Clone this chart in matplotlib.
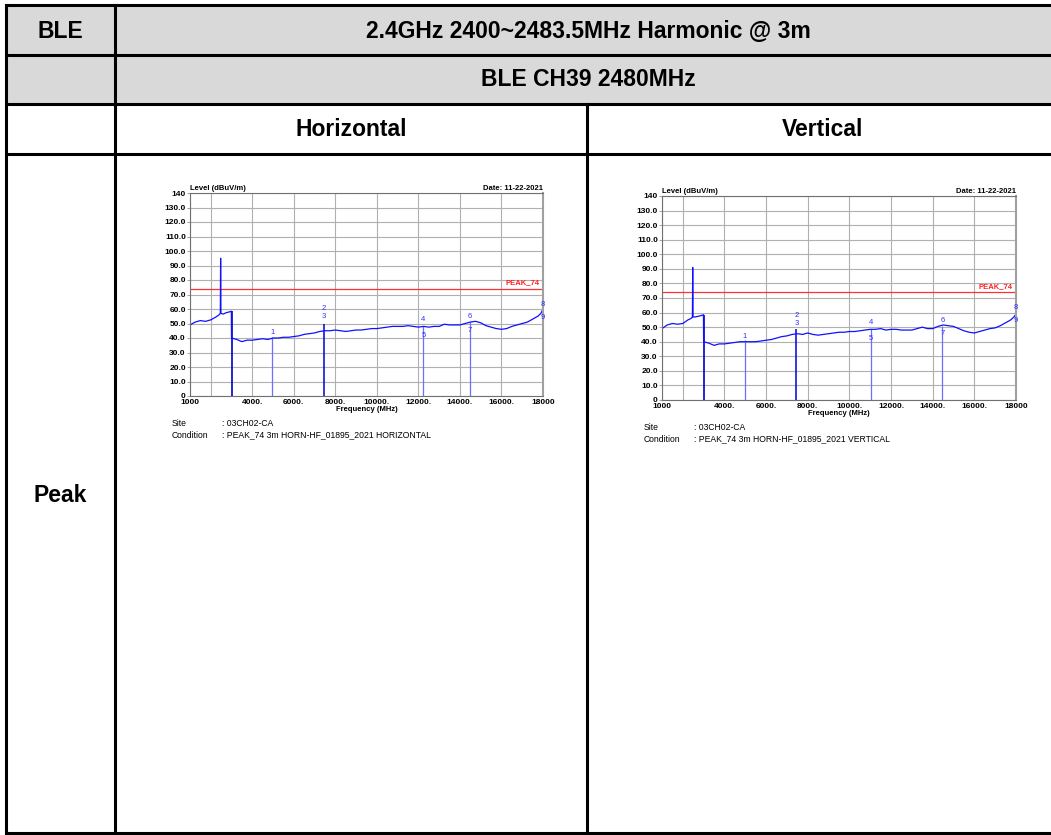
"""Harmonic scan table: BLE CH39 2480MHz, horizontal and vertical polarisation."""
import matplotlib
matplotlib.use('Agg')
import matplotlib.pyplot as plt
from matplotlib.patches import Rectangle
import numpy as np

plt.rcParams['font.family'] = ['Liberation Sans', 'DejaVu Sans']

# ---- trace data (MHz, dBuV/m) ----
freq = [1000, 1250, 1500, 1750, 2000, 2250, 2400, 2460, 2475, 2490, 2600, 2750, 2900, 2990,
        3000, 3250, 3500, 3750, 4000, 4250, 4500, 4750, 5000, 5250, 5500, 5750, 6000,
        6250, 6500, 6750, 7000, 7250, 7500, 7750, 8000, 8250, 8500, 8750, 9000, 9250,
        9500, 9750, 10000, 10250, 10500, 10750, 11000, 11250, 11500, 11750, 12000, 12250,
        12500, 12750, 13000, 13250, 13500, 13750, 14000, 14250, 14500, 14750, 15000, 15250,
        15500, 15750, 16000, 16250, 16500, 16750, 17000, 17250, 17500, 17750, 17900, 18000]

level_h = [49, 51, 52, 51.5, 52.5, 54.5, 56, 57, 95, 57, 56.5, 57.5, 58, 58.5,
           40, 39, 37.5, 38.5, 38.5, 39, 39.5, 39, 40, 40, 40.5, 40.5, 41,
           41.5, 42.5, 43, 43.5, 44.5, 45, 45, 45.5, 45, 44.5, 45, 45.5, 45.5,
           46, 46.5, 46.5, 47, 47.5, 48, 48, 48, 48.5, 48, 47.5, 48,
           47.5, 48, 48, 49.5, 49, 49, 49, 50, 51, 51.5, 50.5, 48.5,
           47.5, 46.5, 46, 46.5, 48, 49, 50, 51, 53, 55, 57, 60]

level_v = [49, 51.5, 52.5, 52, 52.5, 55, 56, 57, 91, 57, 57, 57.5, 58, 58.5,
           40, 39, 37.5, 38.5, 38.5, 39, 39.5, 40, 40, 40, 40, 40.5, 41,
           41.5, 42.5, 43.5, 44, 45, 45.5, 45, 46, 45, 44.5, 45, 45.5, 46,
           46.5, 46.5, 47, 47, 47.5, 48, 48.5, 48.5, 49, 48, 48.5, 48.5,
           48, 48, 48, 49, 50, 49, 49, 50.5, 51.5, 51, 50.5, 49,
           47.5, 46.5, 46, 47, 48, 49, 49.5, 51, 53, 55, 57, 59]

# marker lines: frequency, top of line, labels and label heights
mark_freq_h = [4960, 7440, 12240, 14470, 18000]
mark_top_h = [41, 50, 48, 51, 60]
mark_freq_v = [4980, 7450, 11040, 14470, 18000]
mark_top_v = [41, 49, 49, 51, 59]
mark_labels = [['1'], ['2', '3'], ['4', '5'], ['6', '7'], ['8', '9']]
mark_lab_y_h = [[43.5], [60, 55], [53, 42], [55, 45.5], [63, 54]]
mark_lab_y_v = [[43.5], [58, 52.5], [53, 42], [54.5, 45.5], [63.5, 54.5]]
mark_dark = [False, True, False, False, True]

limit_level = 74
edge_freq = 3000
edge_top = 58.5

x_ticks = [1000, 2000, 4000, 6000, 8000, 10000, 12000, 14000, 16000, 18000]
x_ticklabels = ['1000', '', '4000.', '6000.', '8000.', '10000.', '12000.', '14000.', '16000.', '18000']
y_ticks = list(range(0, 150, 10))
y_ticklabels = ['0'] + [f'{v:.1f}' for v in range(10, 140, 10)] + ['140']

W, H = 1051, 835
fig = plt.figure(figsize=(W / 100, H / 100), dpi=100)

# ---- table frame ----
tab = fig.add_axes([0, 0, 1, 1])
tab.set_xlim(0, W)
tab.set_ylim(H, 0)
tab.axis('off')

gray = '#d9d9d9'
tab.add_patch(Rectangle((6, 5), W, 99, facecolor=gray, edgecolor='none'))
lw = 2.2
for y in [5, 55, 104, 154, 833]:
    tab.plot([6, W], [y, y], color='black', lw=lw, solid_capstyle='butt')
tab.plot([6, 6], [5, 833], color='black', lw=lw)
tab.plot([115, 115], [5, 833], color='black', lw=lw)
tab.plot([587, 587], [104, 833], color='black', lw=lw)

hdr = dict(fontsize=16.5, fontweight='bold', ha='center', va='center')
tab.text(60, 31, 'BLE', **hdr)
tab.text(588, 31, '2.4GHz 2400~2483.5MHz Harmonic @ 3m', **hdr)
tab.text(588, 80, 'BLE CH39 2480MHz', **hdr)
tab.text(351, 130, 'Horizontal', **hdr)
tab.text(823, 130, 'Vertical', **hdr)
tab.text(60, 495, 'Peak', **hdr)


def spectrum(box, level, mfreq, mtop, mlab_y, polar):
    x0, y0, x1, y1 = box
    ax = fig.add_axes([x0 / W, (H - y1) / H, (x1 - x0) / W, (y1 - y0) / H])
    ax.set_xlim(1000, 18000)
    ax.set_ylim(0, 140)
    ax.set_xticks(x_ticks)
    ax.set_xticklabels(x_ticklabels, fontsize=6, fontweight='bold')
    ax.set_yticks(y_ticks)
    ax.set_yticklabels(y_ticklabels, fontsize=6, fontweight='bold')
    ax.tick_params(axis='x', length=0, pad=2)
    ax.tick_params(axis='y', length=2, width=0.5, pad=1, color='#808080')
    ax.grid(True, color='#b0b0b0', lw=0.8)
    for s in ax.spines.values():
        s.set_color('#707070')
        s.set_linewidth(0.8)
    ax.spines['right'].set_color('#a0a0a0')
    ax.spines['right'].set_linewidth(1.5)

    # limit line
    ax.axhline(limit_level, color='#ff3030', lw=0.9)
    ax.text(17850, limit_level + 1.5, 'PEAK_74', color='#ff2020', fontsize=5.5,
            fontweight='bold', ha='right', va='bottom')

    # band edge drop and marker lines
    ax.vlines(edge_freq, 0, edge_top, color='#0000cc', lw=1.2)
    for f, t, labs, ly, dark in zip(mfreq, mtop, mark_labels, mlab_y, mark_dark):
        ax.vlines(f, 0, t, color='#0000dd' if dark else '#6f6fff', lw=1.1 if dark else 0.9)
        for lab, yy in zip(labs, ly):
            ax.text(f, yy, lab, color='#3030ff', fontsize=5.5, ha='center', va='center')

    ax.plot(freq, level, color='#1010ff', lw=0.9)

    ax.text(1000, 141, 'Level (dBuV/m)', fontsize=5.5, fontweight='bold', ha='left', va='bottom')
    ax.text(18000, 141, 'Date: 11-22-2021', fontsize=5.5, fontweight='bold', ha='right', va='bottom')
    ax.set_xlabel('Frequency (MHz)', fontsize=5.5, fontweight='bold', labelpad=0.5)

    tab.text(x0 - 18, y1 + 27, 'Site', fontsize=6.2, va='center')
    tab.text(x0 + 32, y1 + 27, ': 03CH02-CA', fontsize=6.2, va='center')
    tab.text(x0 - 18, y1 + 39, 'Condition', fontsize=6.2, va='center')
    tab.text(x0 + 32, y1 + 39, ': PEAK_74 3m HORN-HF_01895_2021 ' + polar, fontsize=6.2, va='center')
    return ax


spectrum((190, 193, 543, 396), level_h, mark_freq_h, mark_top_h, mark_lab_y_h, 'HORIZONTAL')
spectrum((662, 196, 1016, 400), level_v, mark_freq_v, mark_top_v, mark_lab_y_v, 'VERTICAL')

fig.savefig('out.png', dpi=100)
